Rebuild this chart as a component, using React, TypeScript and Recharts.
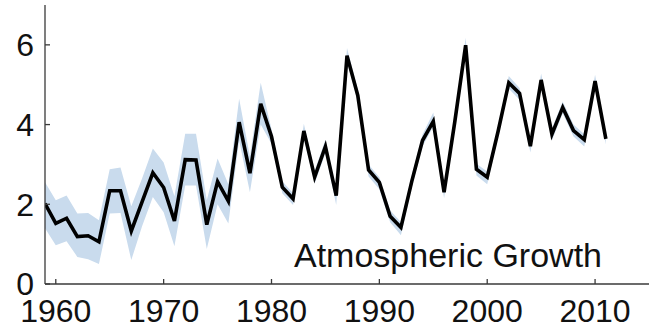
import React from 'react';
import { ComposedChart, Line, Area, XAxis, YAxis } from 'recharts';

const years = [
  1959, 1960, 1961, 1962, 1963, 1964, 1965, 1966, 1967, 1968, 1969,
  1970, 1971, 1972, 1973, 1974, 1975, 1976, 1977, 1978, 1979,
  1980, 1981, 1982, 1983, 1984, 1985, 1986, 1987, 1988, 1989,
  1990, 1991, 1992, 1993, 1994, 1995, 1996, 1997, 1998, 1999,
  2000, 2001, 2002, 2003, 2004, 2005, 2006, 2007, 2008, 2009,
  2010, 2011,
];

const growth = [
  2.02, 1.52, 1.65, 1.19, 1.21, 1.06, 2.34, 2.34, 1.33, 2.06, 2.79,
  2.42, 1.58, 3.12, 3.11, 1.49, 2.57, 2.08, 4.06, 2.78, 4.52,
  3.70, 2.43, 2.14, 3.84, 2.68, 3.45, 2.22, 5.73, 4.73, 2.86,
  2.55, 1.70, 1.42, 2.57, 3.60, 4.08, 2.30, 4.08, 5.99, 2.88,
  2.68, 3.82, 5.05, 4.78, 3.46, 5.12, 3.76, 4.43, 3.85, 3.62,
  5.09, 3.64,
];

const bandLow = [
  1.40, 0.97, 1.07, 0.68, 0.62, 0.50, 1.77, 1.78, 0.60, 1.45, 2.18,
  1.80, 0.95, 2.47, 2.47, 0.88, 2.00, 1.52, 3.60, 2.30, 4.00,
  3.52, 2.28, 1.98, 3.66, 2.52, 3.28, 1.98, 5.58, 4.58, 2.70,
  2.38, 1.55, 1.22, 2.42, 3.45, 3.95, 2.15, 3.92, 5.85, 2.72,
  2.50, 3.68, 4.90, 4.62, 3.30, 4.98, 3.60, 4.28, 3.70, 3.45,
  4.95, 3.50,
];

const bandHigh = [
  2.55, 2.10, 2.22, 1.77, 1.78, 1.60, 2.88, 2.92, 1.95, 2.65, 3.40,
  3.05, 2.20, 3.77, 3.77, 2.10, 3.15, 2.50, 4.65, 3.20, 5.05,
  3.88, 2.58, 2.28, 4.02, 2.84, 3.62, 2.36, 5.92, 4.88, 3.00,
  2.68, 1.85, 1.55, 2.72, 3.75, 4.30, 2.45, 4.22, 6.18, 3.02,
  2.82, 3.96, 5.22, 4.92, 3.60, 5.28, 3.90, 4.58, 4.00, 3.76,
  5.25, 3.78,
];

const xTicks = [1960, 1970, 1980, 1990, 2000, 2010];
const yTicks = [0, 2, 4, 6];
const annotation = 'Atmospheric Growth';

const data = years.map((year, i) => ({
  year,
  v: growth[i],
  band: [bandLow[i], bandHigh[i]],
}));

const FONT = '"Liberation Sans", Arial, sans-serif';
const AXIS = '#3a3a3a';

export default function App() {
  return (
    <div style={{ position: 'fixed', left: 0, top: 0, background: '#fff' }}>
      <ComposedChart
        width={654}
        height={327}
        data={data}
        margin={{ top: 5, right: 5, bottom: 0, left: 0 }}
      >
        <XAxis
          dataKey="year"
          type="number"
          domain={[1959, 2015]}
          ticks={xTicks}
          allowDataOverflow
          height={43}
          tickSize={-5}
          tickMargin={20}
          axisLine={{ stroke: AXIS, strokeWidth: 1.3 }}
          tickLine={{ stroke: AXIS, strokeWidth: 1.3 }}
          tick={{ fill: '#111', fontSize: 32, fontFamily: FONT }}
          interval={0}
        />
        <XAxis
          xAxisId="top"
          orientation="top"
          dataKey="year"
          type="number"
          domain={[1959, 2015]}
          ticks={xTicks}
          allowDataOverflow
          height={0}
          tickSize={-5}
          axisLine={{ stroke: AXIS, strokeWidth: 1.3 }}
          tickLine={{ stroke: AXIS, strokeWidth: 1.3 }}
          tick={false}
          interval={0}
        />
        <YAxis
          type="number"
          domain={[0, 7]}
          ticks={yTicks}
          allowDataOverflow
          width={45}
          tickSize={-5}
          tickMargin={16}
          axisLine={{ stroke: AXIS, strokeWidth: 1.3 }}
          tickLine={{ stroke: AXIS, strokeWidth: 1.3 }}
          tick={{ fill: '#111', fontSize: 32, fontFamily: FONT }}
          interval={0}
        />
        <YAxis
          yAxisId="right"
          orientation="right"
          type="number"
          domain={[0, 7]}
          ticks={yTicks}
          allowDataOverflow
          width={0}
          tickSize={-5}
          axisLine={{ stroke: AXIS, strokeWidth: 1.3 }}
          tickLine={{ stroke: AXIS, strokeWidth: 1.3 }}
          tick={false}
          interval={0}
        />
        <Area
          type="linear"
          dataKey="band"
          stroke="none"
          fill="#c9dbed"
          fillOpacity={1}
          isAnimationActive={false}
          activeDot={false}
        />
        <Line
          type="linear"
          dataKey="v"
          stroke="#000"
          strokeWidth={3.6}
          dot={false}
          activeDot={false}
          strokeLinejoin="miter"
          isAnimationActive={false}
        />
        <text
          x={294}
          y={267}
          fontSize={34}
          fontFamily={FONT}
          fill="#111"
        >
          {annotation}
        </text>
      </ComposedChart>
    </div>
  );
}
